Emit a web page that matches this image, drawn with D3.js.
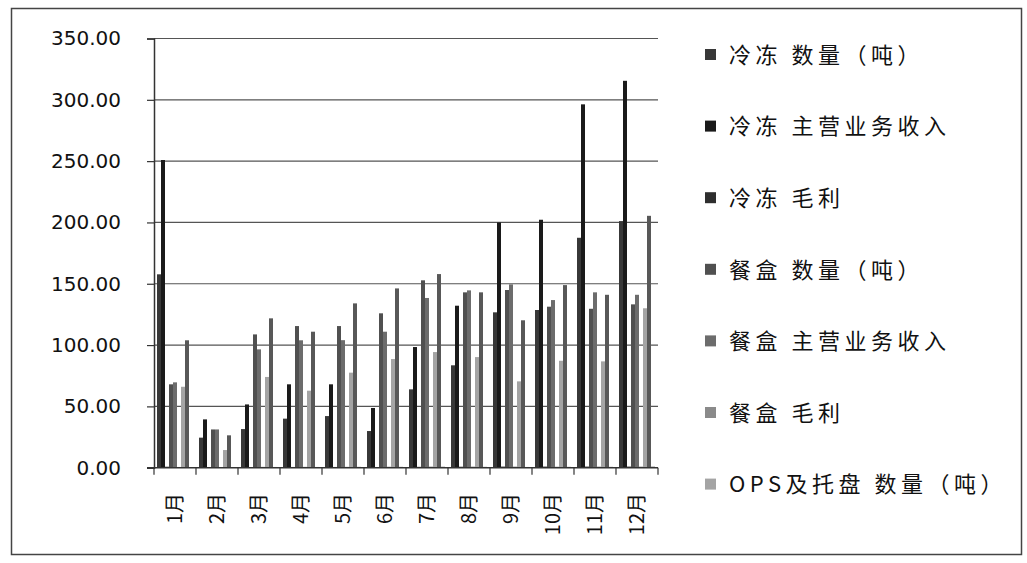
<!DOCTYPE html>
<html lang="zh">
<head>
<meta charset="UTF-8">
<title>月度数据</title>
<script src="https://cdn.jsdelivr.net/npm/d3@7"></script>
<style>
  body { margin: 0; background: #fff; }
  svg text { fill: #111; }
</style>
</head>
<body>
<div id="chart"></div>
<script>
// months on the x axis
var months = ['1月', '2月', '3月', '4月', '5月', '6月', '7月', '8月', '9月', '10月', '11月', '12月'];

// 9 series in the sheet, legend only had room for the first 7
var seriesNames = ['冷冻 数量（吨）', '冷冻 主营业务收入', '冷冻 毛利',
                   '餐盒 数量（吨）', '餐盒 主营业务收入', '餐盒 毛利',
                   'OPS及托盘 数量（吨）', 'OPS及托盘 主营业务收入', 'OPS及托盘 毛利'];
var legendCount = 7;

var coldQty     = [157.7, 24.5, 31.5, 40.0, 42.1, 29.9, 63.9, 83.5, 126.7, 128.6, 187.5, 201.1];
var coldIncome  = [250.9, 39.4, 51.6, 68.0, 68.0, 48.7, 98.4, 132.1, 200.0, 202.2, 296.3, 315.5];
var coldProfit  = [0.8, 0.3, 0.5, 0.6, 0.6, 0.4, 0.7, 0.8, 0.9, 0.9, 0.9, 0.9];
var boxQty      = [68.0, 31.2, 108.7, 115.5, 115.5, 125.9, 152.8, 143.0, 144.9, 131.3, 129.6, 133.2];
var boxIncome   = [69.6, 31.2, 96.5, 103.9, 104.0, 110.9, 138.4, 144.6, 149.5, 136.7, 143.0, 141.0];
var boxProfit   = [0.6, 0.3, 0.7, 0.7, 0.7, 0.8, 0.9, 0.9, 0.9, 0.8, 0.9, 0.9];
var opsQty      = [66.0, 14.4, 74.0, 62.8, 77.5, 88.6, 94.3, 90.2, 70.4, 87.2, 86.7, 130.0];
var opsIncome   = [103.9, 26.4, 121.8, 110.9, 134.0, 146.2, 157.9, 143.0, 120.2, 148.9, 141.0, 205.4];
var opsProfit   = [0.5, 0.2, 0.6, 0.6, 0.7, 0.7, 0.8, 0.7, 0.6, 0.7, 0.7, 0.9];

var yTicks = [0, 50, 100, 150, 200, 250, 300, 350];

var seriesValues = [coldQty, coldIncome, coldProfit, boxQty, boxIncome, boxProfit, opsQty, opsIncome, opsProfit];
var colors = ['#383838', '#1a1a1a', '#2e2e2e', '#505050', '#6c6c6c', '#8a8a8a', '#a4a4a4', '#585858', '#7c7c7c'];

var W = 1027, H = 563;
var plot = { left: 154, right: 658, top: 38.5, bottom: 467.7 };

var svg = d3.select('#chart').append('svg')
    .attr('width', W)
    .attr('height', H);

// outer frame of the chart area
svg.append('rect')
    .attr('x', 11.5).attr('y', 8.5)
    .attr('width', 1010).attr('height', 546)
    .attr('fill', 'none')
    .attr('stroke', '#444')
    .attr('stroke-width', 1.5);

var x0 = d3.scaleBand().domain(months).range([plot.left, plot.right]);
var bw = x0.bandwidth();
var barW = bw / (seriesNames.length + 1.5);
var x1 = d3.scaleBand().domain(d3.range(seriesNames.length))
    .range([barW * 0.75, bw - barW * 0.75]);

var y = d3.scaleLinear().domain([0, 350]).range([plot.bottom, plot.top]);

// gridlines
svg.append('g').selectAll('line')
    .data(yTicks.slice(1)).enter()
    .append('line')
    .attr('x1', plot.left).attr('x2', plot.right)
    .attr('y1', function (d) { return y(d); })
    .attr('y2', function (d) { return y(d); })
    .attr('stroke', '#555')
    .attr('stroke-width', 1.2);

// y axis
var yAxis = d3.axisLeft(y).tickValues(yTicks)
    .tickFormat(d3.format('.2f'))
    .tickSize(7).tickPadding(26);
var gy = svg.append('g').attr('transform', 'translate(' + plot.left + ',0)').call(yAxis);
gy.select('.domain').attr('stroke', '#333').attr('stroke-width', 1.5);
gy.selectAll('.tick line').attr('stroke', '#333').attr('stroke-width', 1.2);
gy.selectAll('text')
    .attr('font-family', 'DejaVu Sans, Verdana, sans-serif')
    .attr('font-size', 20)
    .attr('fill', '#111');

// bars
var groups = svg.append('g').selectAll('g')
    .data(months).enter()
    .append('g')
    .attr('transform', function (m) { return 'translate(' + x0(m) + ',0)'; });

groups.selectAll('rect')
    .data(function (m, i) {
        return seriesValues.map(function (vals, s) { return { s: s, v: vals[i] }; });
    }).enter()
    .append('rect')
    .attr('x', function (d) { return x1(d.s); })
    .attr('width', x1.bandwidth())
    .attr('y', function (d) { return y(d.v); })
    .attr('height', function (d) { return y(0) - y(d.v); })
    .attr('fill', function (d) { return colors[d.s]; });

// x axis line and boundary ticks
svg.append('line')
    .attr('x1', plot.left - 7).attr('x2', plot.right)
    .attr('y1', y(0)).attr('y2', y(0))
    .attr('stroke', '#333').attr('stroke-width', 1.5);

var bounds = months.map(function (m) { return x0(m); }).concat([plot.right]);
svg.append('g').selectAll('line')
    .data(bounds).enter()
    .append('line')
    .attr('x1', function (d) { return d; })
    .attr('x2', function (d) { return d; })
    .attr('y1', y(0)).attr('y2', y(0) + 7)
    .attr('stroke', '#333').attr('stroke-width', 1.2);

// rotated month labels
svg.append('g').selectAll('text')
    .data(months).enter()
    .append('text')
    .attr('transform', function (m) {
        return 'translate(' + (x0(m) + bw / 2 + 7) + ',' + 493 + ') rotate(-90)';
    })
    .attr('text-anchor', 'end')
    .attr('font-family', 'Noto Sans CJK SC, sans-serif')
    .attr('font-size', 20)
    .text(function (m) { return m; });

// legend (first 7 entries only, like the original)
var legend = svg.append('g').selectAll('g')
    .data(seriesNames.slice(0, legendCount)).enter()
    .append('g')
    .attr('transform', function (d, i) { return 'translate(705,' + (55 + i * 71.6) + ')'; });

legend.append('rect')
    .attr('x', 0).attr('y', -6)
    .attr('width', 11).attr('height', 11)
    .attr('fill', function (d, i) { return colors[i]; });

legend.append('text')
    .attr('x', 24).attr('y', 0)
    .attr('dy', '0.35em')
    .attr('font-family', 'Noto Sans CJK SC, sans-serif')
    .attr('font-size', 22)
    .attr('letter-spacing', 4.5)
    .text(function (d) { return d; });
</script>
</body>
</html>
